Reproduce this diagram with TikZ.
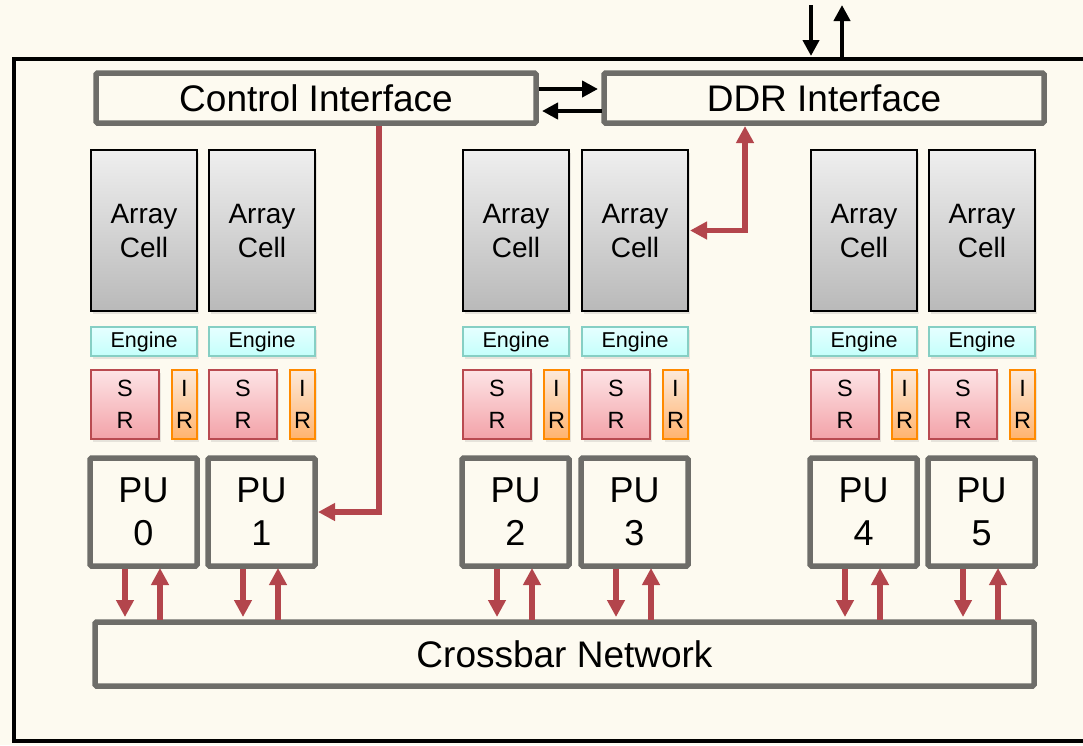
\documentclass[tikz,border=0pt]{standalone}
\usepackage{fontspec}
\setmainfont{Liberation Sans}
\usetikzlibrary{arrows.meta,shadows}

\definecolor{paper}{HTML}{FDFAF0}
\definecolor{boxgray}{HTML}{6E6D69}
\definecolor{celltop}{HTML}{EFEFEF}
\definecolor{cellbot}{HTML}{B9B9B9}
\definecolor{engtop}{HTML}{E6FFFF}
\definecolor{engbot}{HTML}{C4FFFB}
\definecolor{engline}{HTML}{86CFC4}
\definecolor{srtop}{HTML}{FDE4E6}
\definecolor{srbot}{HTML}{F3A2A8}
\definecolor{srline}{HTML}{B94A50}
\definecolor{irtop}{HTML}{FCE9DA}
\definecolor{irbot}{HTML}{FFB36E}
\definecolor{irline}{HTML}{FF8A00}
\definecolor{arrowred}{HTML}{B3454C}

\tikzset{
  softshadow/.style={drop shadow={opacity=0.18, shadow xshift=1.5pt, shadow yshift=-2.5pt}},
  box/.style={draw=boxgray, line width=5.5pt, rounded corners=1.5pt, fill=paper,
    inner sep=0pt, outer sep=0pt, anchor=north west, align=center, softshadow},
  bigbox/.style={box, minimum width=440pt, minimum height=50pt, font=\fontsize{37}{44}\selectfont},
  cellbox/.style={draw=black, line width=2pt, top color=celltop, bottom color=cellbot,
    inner sep=0pt, outer sep=0pt, anchor=north west, align=center,
    minimum width=106pt, minimum height=161pt, font=\fontsize{28}{34}\selectfont, softshadow},
  enginebox/.style={draw=engline, line width=2pt, top color=engtop, bottom color=engbot,
    inner sep=0pt, outer sep=0pt, anchor=north west,
    minimum width=106pt, minimum height=29pt, font=\fontsize{21.5}{25}\selectfont, softshadow},
  srbox/.style={draw=srline, line width=2pt, top color=srtop, bottom color=srbot,
    inner sep=0pt, outer sep=0pt, anchor=north west, align=center,
    minimum width=68pt, minimum height=69pt, font=\fontsize{23.5}{32}\selectfont, softshadow},
  irbox/.style={srbox, draw=irline, top color=irtop, bottom color=irbot, minimum width=25pt},
  pubox/.style={box, minimum width=107pt, minimum height=108pt, font=\fontsize{36}{43}\selectfont},
  redarrow/.style={draw=arrowred, line width=5.5pt, -{Triangle[length=17pt,width=17pt]}},
  redboth/.style={draw=arrowred, line width=5.5pt, {Triangle[length=17pt,width=17pt]}-{Triangle[length=17pt,width=17pt]}},
  blackarrow/.style={draw=black, line width=4.5pt, -{Triangle[length=16pt,width=16pt]}}
}

\begin{document}
\begin{tikzpicture}[x=1pt,y=-1pt]
  \clip (0,0) rectangle (1083,745);
  \fill[paper] (0,0) rectangle (1083,745);

  % chip outline
  \node[draw=black, line width=4pt, inner sep=0pt, outer sep=0pt, anchor=north west,
    minimum width=1100pt, minimum height=682pt] (chip) at (14,59) {};

  % interfaces
  \node[bigbox] (ctrl) at (96,73) {\raisebox{-3pt}{Control Interface}};
  \node[bigbox] (ddr) at (604,73) {\raisebox{-3pt}{DDR Interface}};

  % six processing columns
  \foreach \i/\x in {0/90,1/208,2/462,3/581,4/810,5/928} {
    \node[cellbox] (cell\i) at (\x+1,150) {Array\\Cell};
    \node[enginebox] (eng\i) at (\x+1,327) {\raisebox{-2pt}{Engine}};
    \node[srbox] (sr\i) at (\x+1,370) {S\\R};
    \node[irbox] (ir\i) at (\x+82,370) {I\\R};
    \node[pubox] (pu\i) at (\x,458) {PU\\\i};
  }

  \node[box, minimum width=939pt, minimum height=64pt, font=\fontsize{37}{44}\selectfont]
    (xbar) at (95,622) {Crossbar Network};

  % PU <-> crossbar
  \foreach \i in {0,...,5} {
    \coordinate (dn\i) at ([xshift=35pt]pu\i.south west);
    \coordinate (up\i) at ([xshift=70pt]pu\i.south west);
    \draw[redarrow, shorten <=2.5pt, shorten >=5pt] (dn\i) -- (dn\i |- xbar.north);
    \draw[redarrow, shorten <=2.5pt, shorten >=2pt] (up\i |- xbar.north) -- (up\i);
  }

  % control and memory paths
  \draw[redarrow, shorten <=2.5pt, shorten >=3pt] ([xshift=63pt]ctrl.south) |- (pu1.east);
  \draw[redboth, shorten <=3pt, shorten >=2pt] ([xshift=-79pt]ddr.south) |- (cell3.east);
  \draw[blackarrow, shorten <=2.5pt, shorten >=6pt] ([yshift=9pt]ctrl.east) -- ([yshift=9pt]ddr.west);
  \draw[blackarrow, shorten <=2.5pt, shorten >=6pt] ([yshift=-13pt]ddr.west) -- ([yshift=-13pt]ctrl.east);

  % off-chip memory link
  \coordinate (memin) at (811,5);
  \coordinate (memout) at (842,5);
  \draw[blackarrow, shorten >=3pt] (memin) -- (memin |- chip.north);
  \draw[blackarrow, shorten <=2pt] (memout |- chip.north) -- (memout);
\end{tikzpicture}
\end{document}
